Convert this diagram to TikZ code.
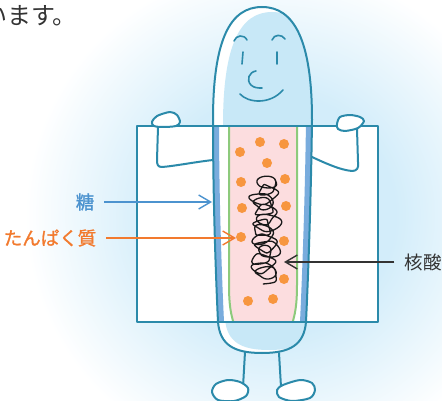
\documentclass[tikz,border=0pt]{standalone}
\usepackage{fontspec}
\setmainfont{Noto Sans CJK JP}
\newfontfamily\heavyjp{Noto Sans CJK JP}[FakeBold=1.2]
\usetikzlibrary{arrows.meta}
\definecolor{halo}{HTML}{D3EDFA}
\definecolor{outline}{HTML}{2B8AAA}
\definecolor{skin}{HTML}{C8E8F7}
\definecolor{wall}{HTML}{79ACDD}
\definecolor{membrane}{HTML}{8DCA7C}
\definecolor{plasma}{HTML}{FCDDDF}
\definecolor{grain}{HTML}{F7963F}
\definecolor{sugar}{HTML}{4C93CF}
\definecolor{protein}{HTML}{F27A2E}
\definecolor{ink}{HTML}{333333}
\pgfdeclareradialshading{haloshade}{\pgfpoint{0bp}{0bp}}{color(0bp)=(halo); color(12bp)=(halo); color(25bp)=(white); color(50bp)=(white)}
% outline of the capsule body (y runs downwards)
\newcommand\bodypath{(262,7) .. controls (294,7) and (312,40) .. (312,120)
  .. controls (311,200) and (308,280) .. (306,322)
  .. controls (304,345) and (290,353) .. (262,353)
  .. controls (234,353) and (220,345) .. (218,322)
  .. controls (216,280) and (213,200) .. (213,120)
  .. controls (213,40) and (230,7) .. (262,7) -- cycle}
\tikzset{
  >={Straight Barb[length=12pt,width=14pt]},
  rim/.style={draw=outline,line width=2pt,line join=round,line cap=round},
  feature/.style={draw=outline,line width=1.6pt,line cap=round},
  tag/.style={font=\fontsize{18.5pt}{22pt}\selectfont,inner sep=2pt},
  pointer/.style={->,line width=1.4pt,shorten <=8pt},
}

\begin{document}
\begin{tikzpicture}[x=1pt,y=-1pt]
\useasboundingbox (0,0) rectangle (442,401);
\fill[white] (0,0) rectangle (442,401);
\shade[shading=haloshade] (275,215) circle (250);

\node[tag,font=\fontsize{24pt}{28pt}\selectfont,text=ink,anchor=west] (lead) at (-19,16) {います。};

% board behind the body
\fill[white] (137,126) rectangle (378,322);

% head with highlight
\begin{scope}
  \clip (0,0) rectangle (442,126);
  \clip \bodypath;
  \fill[white] \bodypath;
  \fill[skin,shift={(10,5)}] \bodypath;
\end{scope}
% bottom with highlight
\begin{scope}
  \clip (0,322) rectangle (442,401);
  \clip \bodypath;
  \fill[white] \bodypath;
  \fill[skin,shift={(7,-3)}] \bodypath;
\end{scope}

% section through the cell
\begin{scope}
  \clip (137,126) rectangle (378,322);
  \clip \bodypath;
  \fill[white] \bodypath;
  \draw[wall,line width=12pt] \bodypath;
  \fill[plasma] (229,120) -- (229,285) .. controls (229,305) and (231,315) .. (234,324)
    -- (292,324) .. controls (295,315) and (297,305) .. (297,285) -- (297,120) -- cycle;
  \draw[membrane,line width=2pt] (229,120) -- (229,285) .. controls (229,305) and (231,315) .. (234,324);
  \draw[membrane,line width=2pt] (297,120) -- (297,285) .. controls (297,305) and (295,315) .. (292,324);
  \foreach \x/\y in {260/142,284/144,240/152,267/163,241/182,285/179,242/208,
                     286/206,241/237,284/241,284/279,248/301,273/299}
    \fill[grain] (\x,\y) circle (5);
  % tangled strand
  \draw[black!90,line width=1.3pt,line join=round] plot[domain=0:90,samples=600,variable=\t]
    ({265+3*sin(0.23*\t r)+(10+3*sin(1.7*\t r)+2*sin(0.53*\t r))*cos(\t r)},
     {180+1.1*\t+(7+2*cos(1.3*\t r))*sin(\t r)});
\end{scope}

\draw[rim] \bodypath;
\draw[rim] (137,126) rectangle (378,322);

% face
\draw[feature] (234,41) .. controls (236,35) and (244,34) .. (247,40);
\draw[feature] (272,40) .. controls (274,34) and (282,34) .. (285,39);
\draw[feature] (243,52) -- (242,64);
\draw[feature] (277,52) -- (277,64);
\draw[feature] (256,71) .. controls (249,72) and (246,80) .. (251,85) .. controls (254,88) and (258,88) .. (262,88);
\draw[feature] (240,94) .. controls (248,103) and (270,105) .. (283,90);

% arms and hands
\draw[rim] (213,160) .. controls (195,162) and (175,166) .. (162,167) .. controls (158,167) and (157,165) .. (157,160) -- (158,127);
\draw[rim] (312,157) .. controls (325,163) and (340,170) .. (352,171) .. controls (357,171) and (359,168) .. (358,162) -- (357,129);
\filldraw[rim,fill=white] plot[smooth cycle] coordinates {(152,122) (157,116) (170,112) (177,115) (180,122) (176,126) (163,127) (154,126)};
\filldraw[rim,fill=white] plot[smooth cycle] coordinates {(337,124) (340,117) (350,115) (360,117) (364,121) (358,128) (345,131) (338,129)};

% legs and feet
\draw[rim] (245,352) -- (243,387);
\draw[rim] (279,353) -- (281,387);
\filldraw[rim,fill=white] plot[smooth cycle] coordinates {(212,392) (216,384) (228,380) (240,382) (248,388) (246,396) (234,401) (218,400)};
\filldraw[rim,fill=white] plot[smooth cycle] coordinates {(277,390) (283,385) (300,380) (312,383) (315,390) (310,398) (292,401) (279,397)};

% labels
\node[tag,text=sugar] (tou) at (85,202) {\heavyjp 糖};
\coordinate (tou tip) at (212,202);
\draw[pointer,sugar] (tou) -- (tou tip);

\node[tag,text=protein] (tanpaku) at (50,238) {\heavyjp たんぱく質};
\coordinate (tanpaku tip) at (236,238);
\draw[pointer,protein] (tanpaku) -- (tanpaku tip);

\node[tag,text=ink] (kakusan) at (423,262) {核酸};
\coordinate (kakusan tip) at (284,262);
\draw[pointer,ink] (kakusan) -- (kakusan tip);
\end{tikzpicture}
\end{document}
